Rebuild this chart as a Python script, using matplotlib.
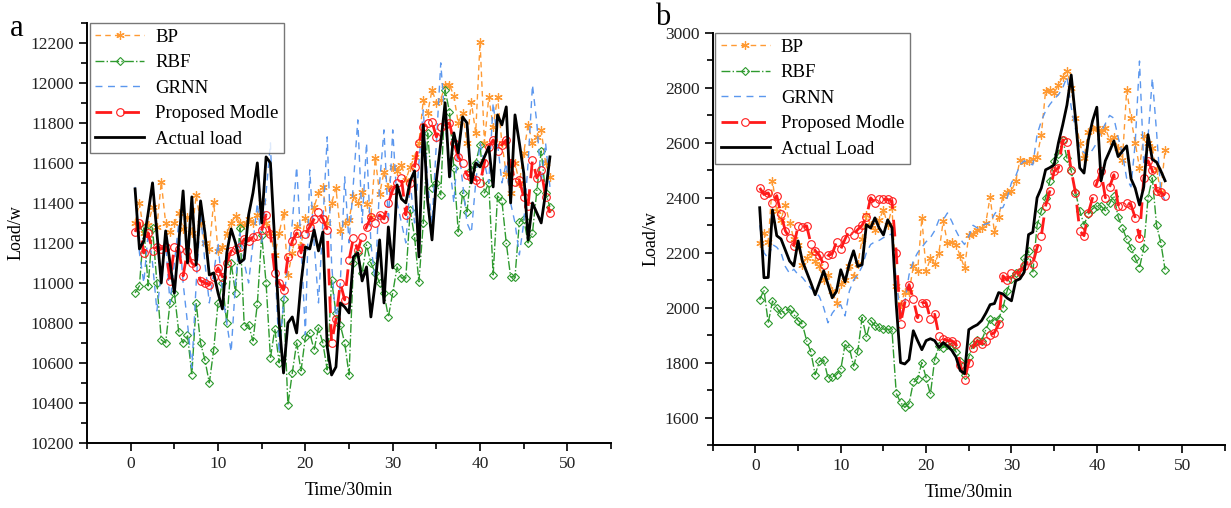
import numpy as np
import matplotlib
matplotlib.use("Agg")
import matplotlib.pyplot as plt
from matplotlib.ticker import MultipleLocator

plt.rcParams["font.family"] = ["Liberation Serif", "DejaVu Serif"]

# time axis (half-hour steps)
t = np.arange(1, 97) * 0.5

# ---------- panel a ----------
bp_a = [11300, 11400, 11250, 11290, 11380, 11280, 11505, 11300, 11255, 11300,
        11350, 11270, 11330, 11250, 11440, 11300, 11200, 11170, 11405, 11160,
        11180, 11250, 11300, 11335, 11300, 11290, 11320, 11300, 11340, 11405,
        11300, 11250, 11140, 11250, 11350, 11040, 11150, 11285, 11185, 11325,
        11300, 11380, 11450, 11480, 11300, 11400, 11475, 11260, 11300, 11315,
        11435, 11400, 11455, 11395, 11330, 11625, 11445, 11555, 11480, 11580,
        11560, 11590, 11515, 11580, 11630, 11700, 11915, 11850, 11965, 11900,
        11915, 11990, 11990, 11935, 11800, 11850, 11700, 11905, 11750, 12205,
        11700, 11930, 11780, 11930, 11700, 11545, 11450, 11600, 11500, 11650,
        11790, 11700, 11730, 11765, 11600, 11530]
rbf_a = [10950, 10985, 11275, 10985, 11275, 11000, 10715, 10700, 10900, 10950,
         10755, 10700, 10740, 10540, 10900, 10700, 10615, 10500, 10665, 10900,
         11000, 10800, 11100, 10950, 11275, 10785, 10790, 10710, 10895, 11240,
         11000, 10625, 10770, 10600, 10920, 10390, 10550, 10700, 10560, 10730,
         10750, 10665, 10775, 10700, 10565, 11015, 10850, 10790, 10700, 10540,
         11100, 11150, 11050, 11190, 11100, 11050, 11000, 10950, 10830, 10950,
         11080, 11025, 11025, 11365, 11230, 11005, 11300, 11750, 11475, 11500,
         11440, 11965, 11855, 11575, 11255, 11450, 11355, 11565, 11600, 11690,
         11450, 11500, 11040, 11435, 11410, 11200, 11030, 11030, 11305, 11320,
         11200, 11250, 11460, 11660, 11450, 11380]
grnn_a = [11480, 11150, 11000, 11250, 11100, 10860, 11050, 11200, 10900, 11100,
          11300, 11000, 10800, 10575, 11000, 11350, 11100, 10900, 11050, 11200,
          10950, 10800, 10655, 11000, 11250, 11100, 11000, 11200, 11400, 11200,
          11450, 11700, 11100, 10650, 10900, 11100, 11300, 11580, 11200, 10740,
          11565, 11200, 10900, 11300, 11730, 11100, 10800, 11000, 11530, 11200,
          11500, 11815, 11300, 11700, 11200, 11000, 11500, 11765, 11300, 11765,
          11400, 11300, 11200, 11500, 11300, 11600, 11865, 11500, 11300, 11700,
          12100, 11800, 11600, 11400, 11700, 11500, 11300, 11250, 11500, 11700,
          11600, 11500, 11900, 11700, 11500, 11600, 11400, 11300, 11140, 11300,
          11600, 11990, 11800, 11500, 11700, 11480]
prop_a = [11255, 11300, 11150, 11250, 11160, 11180, 11170, 11180, 11010, 11180,
          11170, 11035, 11160, 11100, 11080, 11010, 11000, 10990, 11030, 11075,
          11030, 11100, 11160, 11170, 11180, 11220, 11210, 11230, 11235, 11265,
          11340, 11245, 11050, 11000, 10965, 11130, 11210, 11250, 11150, 11245,
          11280, 11320, 11355, 11320, 11265, 10700, 10820, 11000, 10915, 11115,
          11225, 11165, 11230, 11280, 11330, 11300, 11340, 11320, 11400, 11465,
          11500, 11525, 11340, 11500, 11580, 11700, 11780, 11800, 11805, 11730,
          11780, 11790, 11800, 11700, 11630, 11600, 11540, 11530, 11515, 11500,
          11600, 11680, 11715, 11660, 11690, 11715, 11600, 11505, 11515, 11430,
          11385, 11615, 11525, 11565, 11430, 11350]
actual_a = [11470, 11170, 11210, 11350, 11500, 11250, 11000, 11260, 11100, 10950,
            11200, 11460, 11100, 11430, 11090, 11410, 11250, 11040, 11050, 10950,
            10870, 11150, 11270, 11200, 11100, 11120, 11340, 11450, 11600, 11300,
            11630, 11600, 11200, 10800, 10550, 10800, 10830, 10750, 11000, 11180,
            11170, 11265, 11160, 11255, 10680, 10540, 10580, 10900, 10880, 10850,
            11130, 11150, 11010, 11080, 10830, 11000, 11215, 10900, 11280, 11075,
            11490, 11420, 11400, 11510, 11560, 11130, 11790, 11410, 11215, 11515,
            11700, 11900, 11530, 11750, 11650, 11830, 11800, 11500, 11600, 11580,
            11630, 11680, 11480, 11840, 11790, 11880, 11400, 11840, 11700, 11550,
            11215, 11400, 11350, 11300, 11450, 11630]

# ---------- panel b ----------
bp_b = [2236, 2273, 2240, 2462, 2351, 2320, 2375, 2310, 2250, 2230,
        2157, 2182, 2200, 2170, 2150, 2100, 2120, 2060, 2018, 2085,
        2100, 2150, 2116, 2160, 2250, 2338, 2300, 2282, 2320, 2357,
        2300, 2364, 2080, 2012, 2056, 2056, 2150, 2132, 2327, 2132,
        2180, 2160, 2200, 2316, 2236, 2240, 2230, 2188, 2145, 2264,
        2270, 2284, 2290, 2310, 2404, 2275, 2330, 2407, 2420, 2425,
        2462, 2538, 2530, 2535, 2540, 2550, 2630, 2790, 2793, 2782,
        2811, 2840, 2862, 2800, 2690, 2600, 2545, 2640, 2650, 2655,
        2640, 2655, 2610, 2620, 2580, 2538, 2793, 2690, 2600, 2510,
        2625, 2600, 2580, 2500, 2422, 2575]
rbf_b = [2029, 2065, 1945, 2024, 2000, 1976, 1990, 1995, 1976, 1953,
         1940, 1880, 1838, 1756, 1805, 1810, 1745, 1748, 1756, 1775,
         1866, 1855, 1787, 1843, 1964, 1892, 1953, 1935, 1928, 1922,
         1922, 1918, 1688, 1655, 1637, 1651, 1728, 1740, 1800, 1745,
         1684, 1811, 1860, 1855, 1865, 1862, 1840, 1805, 1756, 1820,
         1866, 1884, 1880, 1920, 1957, 1953, 1960, 2000, 2062, 2105,
         2127, 2130, 2180, 2207, 2127, 2300, 2352, 2400, 2462, 2535,
         2560, 2611, 2545, 2498, 2420, 2353, 2302, 2340, 2360, 2371,
         2370, 2353, 2380, 2407, 2330, 2290, 2250, 2218, 2180, 2145,
         2218, 2400, 2473, 2300, 2236, 2138]
grnn_b = [2300, 2200, 2180, 2230, 2220, 2200, 2150, 2125, 2140, 2120,
          2110, 2090, 2070, 2060, 2040, 2000, 1945, 1980, 2000, 2010,
          1970, 2060, 2100, 2120, 2150, 2200, 2230, 2240, 2245, 2255,
          2260, 2270, 2100, 1965, 2020, 2120, 2170, 2200, 2220, 2240,
          2255, 2280, 2320, 2320, 2345, 2315, 2280, 2250, 2230, 2260,
          2300, 2290, 2300, 2305, 2310, 2340, 2360, 2365, 2400, 2455,
          2480, 2520, 2535, 2525, 2520, 2630, 2680, 2716, 2740, 2760,
          2775, 2800, 2840, 2730, 2650, 2580, 2565, 2555, 2575, 2600,
          2640, 2670, 2700, 2690, 2620, 2560, 2470, 2440, 2600, 2898,
          2520, 2620, 2836, 2640, 2420, 2390]
prop_b = [2436, 2412, 2418, 2382, 2408, 2340, 2280, 2255, 2226, 2298,
          2292, 2298, 2233, 2208, 2190, 2156, 2190, 2196, 2240, 2213,
          2250, 2280, 2265, 2285, 2300, 2330, 2400, 2382, 2394, 2394,
          2394, 2388, 2200, 1940, 2018, 2084, 2030, 1963, 2018, 2018,
          1958, 1976, 1898, 1886, 1880, 1880, 1868, 1793, 1738, 1800,
          1855, 1880, 1868, 1880, 1900, 1909, 1940, 2116, 2100, 2128,
          2120, 2130, 2150, 2175, 2160, 2218, 2262, 2371, 2425, 2498,
          2508, 2611, 2605, 2500, 2418, 2280, 2262, 2345, 2400, 2454,
          2498, 2400, 2440, 2484, 2370, 2370, 2380, 2375, 2327, 2255,
          2472, 2535, 2500, 2425, 2420, 2407]
actual_b = [2364, 2109, 2110, 2356, 2262, 2250, 2210, 2170, 2152, 2243,
            2170, 2130, 2090, 2047, 2090, 2134, 2085, 2036, 2060, 2138,
            2094, 2160, 2207, 2150, 2157, 2302, 2290, 2327, 2290, 2265,
            2320, 2291, 2011, 1800, 1795, 1811, 1916, 1880, 1847, 1880,
            1887, 1880, 1855, 1873, 1860, 1845, 1820, 1771, 1760, 1920,
            1930, 1938, 1953, 1980, 2011, 2015, 2055, 2050, 2035, 2025,
            2098, 2105, 2130, 2266, 2275, 2400, 2436, 2502, 2510, 2520,
            2600, 2665, 2738, 2847, 2690, 2509, 2490, 2610, 2680, 2730,
            2462, 2535, 2570, 2607, 2550, 2570, 2589, 2470, 2435, 2374,
            2440, 2630, 2540, 2530, 2498, 2462]

c_bp = "#ff9a33"
c_rbf = "#2e9a2e"
c_grnn = "#5b97ee"
c_prop = "#ff1a1a"


def draw(ax, bp, rbf, grnn, prop, actual, last_label):
    ax.plot(t, bp, color=c_bp, lw=1.0, dashes=(4, 3), marker=(6, 2, 0),
            ms=6, mew=0.9, label="BP")
    ax.plot(t, rbf, color=c_rbf, lw=1.0, linestyle="-.", marker="D", ms=4.5,
            mfc="none", mew=0.8, label="RBF")
    ax.plot(t, grnn, color=c_grnn, lw=1.0, dashes=(5, 4), label="GRNN")
    ax.plot(t, prop, color=c_prop, lw=2.0, dashes=(6, 4), marker="o", ms=5.5,
            mfc="none", mew=0.8, label="Proposed Modle")
    ax.plot(t, actual, color="black", lw=2.0, label=last_label)

    ax.spines["top"].set_visible(False)
    ax.spines["right"].set_visible(False)
    ax.spines["left"].set_linewidth(1.4)
    ax.spines["bottom"].set_linewidth(1.4)
    ax.set_xlim(-5, 55)
    ax.xaxis.set_major_locator(MultipleLocator(10))
    ax.xaxis.set_minor_locator(MultipleLocator(5))
    ax.tick_params(which="both", direction="out", width=1.2, labelsize=12.5,
                   labelcolor="#222222")
    ax.tick_params(which="major", length=6)
    ax.tick_params(which="minor", length=4)
    ax.set_xlabel("Time/30min", fontsize=13, labelpad=7)
    ax.set_ylabel("Load/w", fontsize=13)
    leg = ax.legend(loc="upper left", bbox_to_anchor=(0.005, 1.0),
                    borderaxespad=0, fontsize=13.5, fancybox=False,
                    edgecolor="#555555", handlelength=2.6, labelspacing=0.45,
                    borderpad=0.3, handletextpad=0.6)
    leg.get_frame().set_linewidth(1.0)


fig = plt.figure(figsize=(12.31, 5.08), dpi=100)
ax1 = fig.add_axes([0.0707, 0.128, 0.4257, 0.827])
ax2 = fig.add_axes([0.579, 0.124, 0.416, 0.811])

draw(ax1, bp_a, rbf_a, grnn_a, prop_a, actual_a, "Actual load")
ax1.set_ylim(10200, 12300)
ax1.yaxis.set_major_locator(MultipleLocator(200))
ax1.yaxis.set_minor_locator(MultipleLocator(100))

draw(ax2, bp_b, rbf_b, grnn_b, prop_b, actual_b, "Actual Load")
ax2.set_ylim(1500, 3000)
ax2.yaxis.set_major_locator(MultipleLocator(200))
ax2.yaxis.set_minor_locator(MultipleLocator(100))
ax2.set_yticks(np.arange(1600, 3001, 200))

fig.text(0.008, 0.93, "a", fontsize=22)
fig.text(0.532, 0.95, "b", fontsize=22)

fig.savefig("out.png", dpi=100)
